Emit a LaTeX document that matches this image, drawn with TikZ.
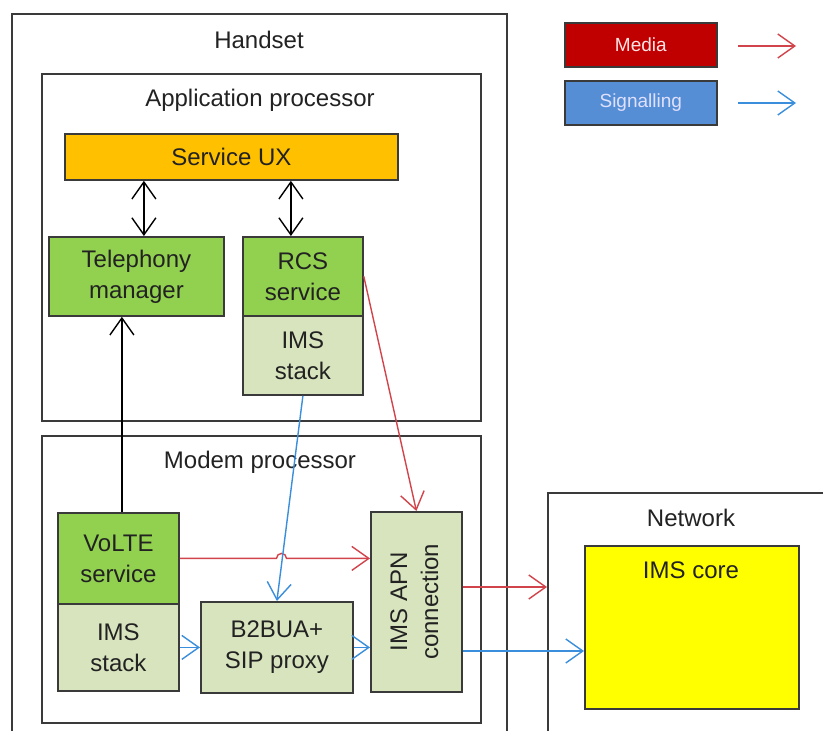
\documentclass[tikz,border=0pt]{standalone}
\usepackage{fontspec}
\setmainfont{Liberation Sans}
\usetikzlibrary{arrows.meta,calc}
\definecolor{uxorange}{HTML}{FFC000}
\definecolor{dkgreen}{HTML}{92D050}
\definecolor{ltgreen}{HTML}{D7E4BD}
\definecolor{mediafill}{HTML}{C00000}
\definecolor{sigfill}{HTML}{558ED5}
\definecolor{coreyellow}{HTML}{FFFF00}
\definecolor{redarrow}{HTML}{D2444B}
\definecolor{bluearrow}{HTML}{3A8EDB}
\definecolor{edgegray}{HTML}{3A3A3A}
\definecolor{txtgray}{HTML}{222222}
\newcommand\mainsize{\fontsize{24}{31}\selectfont}
\newcommand\legsize{\fontsize{19}{23}\selectfont}
\begin{document}
\begin{tikzpicture}[x=1pt,y=-1pt,
  container/.style={draw=edgegray, line width=1.8pt, anchor=north west, inner sep=0pt},
  box/.style={draw=edgegray, line width=1.8pt, anchor=north west, inner sep=0pt, align=center, font=\mainsize, text=txtgray},
  ttl/.style={font=\mainsize, text=txtgray, inner sep=0pt},
  legbox/.style={draw=edgegray, line width=1.6pt, anchor=north west, inner sep=0pt, font=\legsize, minimum width=152pt, minimum height=44pt},
  barb/.style={-{Straight Barb[length=17pt,width=24pt]}},
  dbarb/.style={{Straight Barb[length=17pt,width=24pt]}-{Straight Barb[length=17pt,width=24pt]}},
  redarr/.style={barb, draw=redarrow, line width=1.4pt},
  bluearr/.style={barb, draw=bluearrow, line width=1.4pt},
  blackarr/.style={draw=black, line width=1.4pt}
]
\useasboundingbox (0,0) rectangle (823,731);
\clip (0,0) rectangle (823,731);
\fill[white] (0,0) rectangle (823,731);

% containers
\node[container, minimum width=495pt, minimum height=740pt] (handset) at (11,13) {};
\node[ttl] (handsett) at (259,40) {Handset};
\node[container, minimum width=439pt, minimum height=347pt] (ap) at (41,73) {};
\node[ttl] (apt) at (260,100) {Application processor};
\node[container, minimum width=439pt, minimum height=287pt] (modem) at (41,435) {};
\node[ttl] (modemt) at (260,462) {Modem processor};
\node[container, minimum width=320pt, minimum height=260pt] (net) at (547,492) {};
\node[ttl] (nett) at (691,518) {Network};

% application processor boxes
\node[box, fill=uxorange, minimum width=333pt, minimum height=46pt] (ux) at (64,133) {Service UX};
\node[box, fill=dkgreen, minimum width=175pt, minimum height=79pt] (tm) at (48,236) {Telephony\\manager};
\node[box, fill=dkgreen, minimum width=120pt, minimum height=79pt] (rcs) at (242,236) {RCS\\service};
\node[box, fill=ltgreen, minimum width=120pt, minimum height=79pt] (imsa) at (242,315) {IMS\\stack};

% modem boxes
\node[box, fill=dkgreen, minimum width=121pt, minimum height=91pt] (volte) at (57,512) {VoLTE\\service};
\node[box, fill=ltgreen, minimum width=121pt, minimum height=87pt] (imsb) at (57,603) {IMS\\stack};
\node[box, fill=ltgreen, minimum width=152pt, minimum height=91pt] (b2b) at (200,601) {B2BUA+\\SIP proxy};
\node[box, fill=ltgreen, minimum width=91pt, minimum height=180pt] (apn) at (370,511) {};
\node[ttl, rotate=90, align=center] (apnt) at ($(apn.center)+(-2,0)$) {IMS APN\\connection};

% network
\node[box, fill=coreyellow, minimum width=214pt, minimum height=163pt] (core) at (584,545) {};
\node[ttl] (coret) at (691,570) {IMS core};

% legend
\node[legbox, fill=mediafill, text=white!90!red] (media) at (564,22) {Media};
\node[legbox, fill=sigfill, text=white!88!blue] (sig) at (564,80) {Signalling};
\coordinate (mla) at (738,46);
\coordinate (mlb) at (796,46);
\coordinate (sla) at (738,103);
\coordinate (slb) at (796,103);
\draw[redarr] (mla) -- (mlb);
\draw[bluearr] (sla) -- (slb);

% black arrows
\draw[blackarr, dbarb] ([xshift=7.5pt]tm.north) -- ([xshift=7.5pt]tm.north |- ux.south);
\draw[blackarr, dbarb] ([xshift=-12pt]rcs.north) -- ([xshift=-12pt]rcs.north |- ux.south);
\draw[blackarr, barb] ([xshift=3.5pt]volte.north) -- ([xshift=3.5pt]volte.north |- tm.south);

% red arrows
\draw[redarr] (rcs.east) -- (apn.north);
\coordinate (hopa) at (volte.east -| 276.5,0);
\draw[redarr] (volte.east) -- (hopa) arc[start angle=180, end angle=0, radius=5pt] -- (apn.west |- volte.east);
\coordinate (apnr) at (apn.east |- 0,587);
\draw[redarr] (apnr) -- (net.west |- apnr);

% blue arrows
\draw[bluearr] (imsa.south) -- (b2b.north);
\draw[bluearr] (imsb.east) -- (b2b.west);
\draw[bluearr] (b2b.east) -- (apn.west |- b2b.east);
\coordinate (apnb) at (apn.east |- 0,651);
\draw[bluearr] (apnb) -- (core.west |- apnb);
\end{tikzpicture}
\end{document}
